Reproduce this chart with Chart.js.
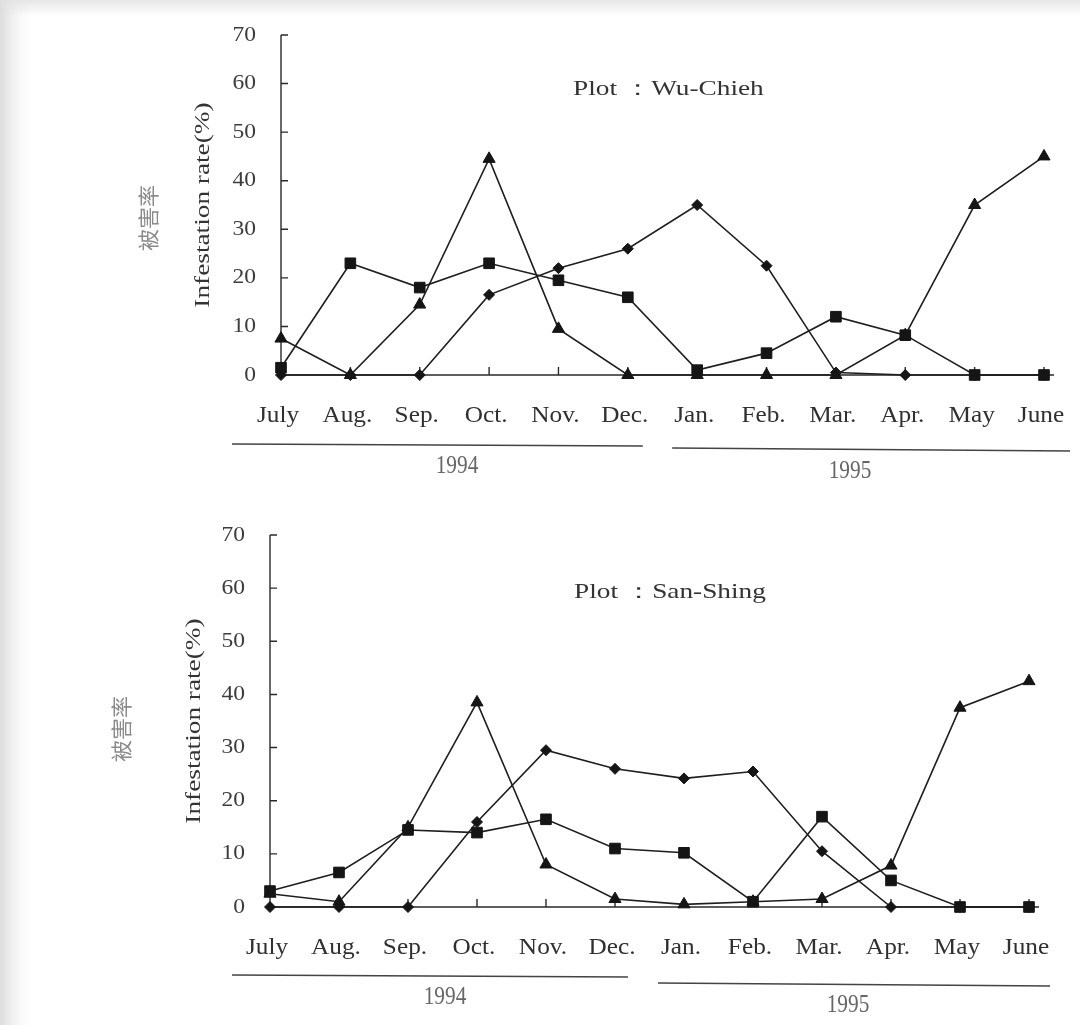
<!DOCTYPE html>
<html><head><meta charset="utf-8">
<script src="https://cdn.jsdelivr.net/npm/chart.js@4.4.1/dist/chart.umd.min.js"></script>
<style>
html,body{margin:0;padding:0;background:#fff;}
#page{position:relative;width:1080px;height:1025px;overflow:hidden;
 background:linear-gradient(to right,#dcdcdc 0px,#ededed 10px,#f8f8f8 20px,#ffffff 32px);}
#shade{position:absolute;left:0;top:0;width:1080px;height:16px;background:linear-gradient(to bottom,rgba(225,225,225,0.8),rgba(255,255,255,0));}
.panel{position:absolute;left:0;width:1080px;}
#p1{top:0;height:505px;}
#p2{top:505px;height:520px;}
canvas{display:block;}
</style></head><body>
<div id="page">
<div id="shade"></div>
<div class="panel" id="p1"><canvas id="c1" width="1080" height="505"></canvas></div>
<div class="panel" id="p2"><canvas id="c2" width="1080" height="520"></canvas></div>
</div>
<script>
// ---- data ----
const months = ['July','Aug.','Sep.','Oct.','Nov.','Dec.','Jan.','Feb.','Mar.','Apr.','May','June'];
const yTicks = [0,10,20,30,40,50,60,70];
const years = ['1994','1995'];
const yAxisTitle = 'Infestation rate(%)';
const yAxisTitleZh = '被害率';

// Plot: Wu-Chieh
const wuTriangle = [7.5, 0, 14.5, 44.5, 9.5, 0, 0, 0, 0, 8.2, 35, 45];
const wuSquare   = [1.5, 23, 18, 23, 19.5, 16, 1, 4.5, 12, 8.2, 0, 0];
const wuDiamond  = [0, 0, 0, 16.5, 22, 26, 35, 22.5, 0.5, 0, 0, 0];

// Plot: San-Shing
const ssTriangle = [2.5, 1, 15, 38.5, 8, 1.5, 0.5, 1, 1.5, 7.8, 37.5, 42.5];
const ssSquare   = [3, 6.5, 14.5, 14, 16.5, 11, 10.2, 1, 17, 5, 0, 0];
const ssDiamond  = [0, 0, 0, 16, 29.5, 26, 24.2, 25.5, 10.5, 0, 0, 0];

// ---- layout ----
const panels = [
  {id:'c1', W:1080, H:505, axisX:281, y70:35, y0:375, xEnd:1044,
   tri:wuTriangle, sq:wuSquare, dia:wuDiamond, title:'Plot \uFF1AWu-Chieh',
   titleX:573, titleY:89, axTitleX:203, cnX:148, cnY:218,
   line94:[-49,15,444,446], line95:[-25,26,448,451], lab94:[457,466], lab95:[850,471]},
  {id:'c2', W:1080, H:520, axisX:270, y70:30, y0:402, xEnd:1029,
   tri:ssTriangle, sq:ssSquare, dia:ssDiamond, title:'Plot \uFF1ASan-Shing',
   titleX:574, titleY:87, axTitleX:194, cnX:121, cnY:224,
   line94:[-38,13,470,472], line95:[-26,21,478,481], lab94:[445,492], lab95:[848,500]}
];

const SERIF = '"Liberation Serif", "Times New Roman", serif';
function txt(ctx, s, x, y, o){
  ctx.save();
  ctx.translate(x, y);
  if (o.rot) ctx.rotate(-Math.PI/2);
  ctx.scale(o.sx || 1, 1);
  ctx.font = (o.weight||'normal') + ' ' + o.size + 'px ' + (o.family || SERIF);
  ctx.fillStyle = o.color || '#333';
  ctx.textAlign = o.align || 'center';
  ctx.textBaseline = 'middle';
  ctx.fillText(s, 0, 0);
  ctx.restore();
}

function makeChart(p){
  const axesPlugin = {
    id:'axesPlugin',
    beforeDatasetsDraw(chart){
      const ctx = chart.ctx, xs = chart.scales.x, ys = chart.scales.y;
      const ax = xs.getPixelForValue(0), by = ys.getPixelForValue(0);
      const topY = ys.getPixelForValue(70);
      ctx.save();
      ctx.strokeStyle = '#2a2a2a';
      ctx.lineWidth = 1.4;
      ctx.beginPath();
      ctx.moveTo(ax, topY); ctx.lineTo(ax, by);
      ctx.moveTo(ax, by); ctx.lineTo(xs.getPixelForValue(months.length-1) + 10, by);
      yTicks.forEach(v => { if (v>0){ const y = ys.getPixelForValue(v); ctx.moveTo(ax, y); ctx.lineTo(ax+7, y);} });
      months.forEach((m,i) => { if (i>0){ const x = xs.getPixelForValue(i); ctx.moveTo(x, by); ctx.lineTo(x, by-8);} });
      ctx.stroke();
      ctx.restore();
    },
    afterDraw(chart){
      const ctx = chart.ctx, xs = chart.scales.x, ys = chart.scales.y;
      const ax = xs.getPixelForValue(0), by = ys.getPixelForValue(0);
      // y tick labels
      yTicks.forEach(v => txt(ctx, String(v), ax - 25, ys.getPixelForValue(v), {size:21, sx:1.12, align:'right', color:'#3c3c3c'}));
      // month labels
      months.forEach((m,i) => txt(ctx, m, xs.getPixelForValue(i) - 3, by + 41, {size:23, sx:1.1, color:'#303030'}));
      // year underlines
      ctx.save();
      ctx.strokeStyle = '#444'; ctx.lineWidth = 1.3;
      ctx.beginPath();
      ctx.moveTo(xs.getPixelForValue(0) + p.line94[0], p.line94[2]);
      ctx.lineTo(xs.getPixelForValue(5) + p.line94[1], p.line94[3]);
      ctx.moveTo(xs.getPixelForValue(6) + p.line95[0], p.line95[2]);
      ctx.lineTo(xs.getPixelForValue(11) + p.line95[1], p.line95[3]);
      ctx.stroke();
      ctx.restore();
      txt(ctx, years[0], p.lab94[0], p.lab94[1], {size:26, sx:0.82, color:'#666'});
      txt(ctx, years[1], p.lab95[0], p.lab95[1], {size:26, sx:0.82, color:'#666'});
      // plot title
      txt(ctx, p.title, p.titleX, p.titleY, {size:21, sx:1.3, align:'left', color:'#333'});
      // axis titles
      const midY = (ys.getPixelForValue(0) + ys.getPixelForValue(70))/2;
      txt(ctx, yAxisTitle, p.axTitleX, midY, {size:22, sx:1.24, rot:true, color:'#333'});
      txt(ctx, yAxisTitleZh, p.cnX, p.cnY, {size:21, sx:1.05, rot:true, color:'#8a8a8a', family:'"Noto Sans CJK TC", "Noto Sans CJK SC", sans-serif'});
    }
  };

  const common = {borderColor:'#1e1e1e', borderWidth:1.6, pointBackgroundColor:'#151515',
                  pointBorderColor:'#151515', pointBorderWidth:1, tension:0, clip:false, fill:false};
  return new Chart(document.getElementById(p.id), {
    type:'line',
    data:{
      labels: months,
      datasets:[
        Object.assign({label:'triangle', data:p.tri, pointStyle:'triangle', pointRadius:7}, common),
        Object.assign({label:'square', data:p.sq, pointStyle:'rect', pointRadius:7.5}, common),
        Object.assign({label:'diamond', data:p.dia, pointStyle:'rectRot', pointRadius:5.5}, common)
      ]
    },
    options:{
      responsive:false, animation:false, devicePixelRatio:1,
      layout:{padding:{top:p.y70, right:p.W - p.xEnd, left:0, bottom:0}},
      plugins:{legend:{display:false}, tooltip:{enabled:false}, title:{display:false}},
      scales:{
        x:{type:'category', offset:false, grid:{display:false}, border:{display:false},
           ticks:{display:false}, afterFit(s){ s.height = p.H - p.y0; }},
        y:{min:0, max:70, grid:{display:false}, border:{display:false},
           ticks:{display:false, stepSize:10}, afterFit(s){ s.width = p.axisX; }}
      }
    },
    plugins:[axesPlugin]
  });
}
panels.forEach(makeChart);
</script>
</body></html>
